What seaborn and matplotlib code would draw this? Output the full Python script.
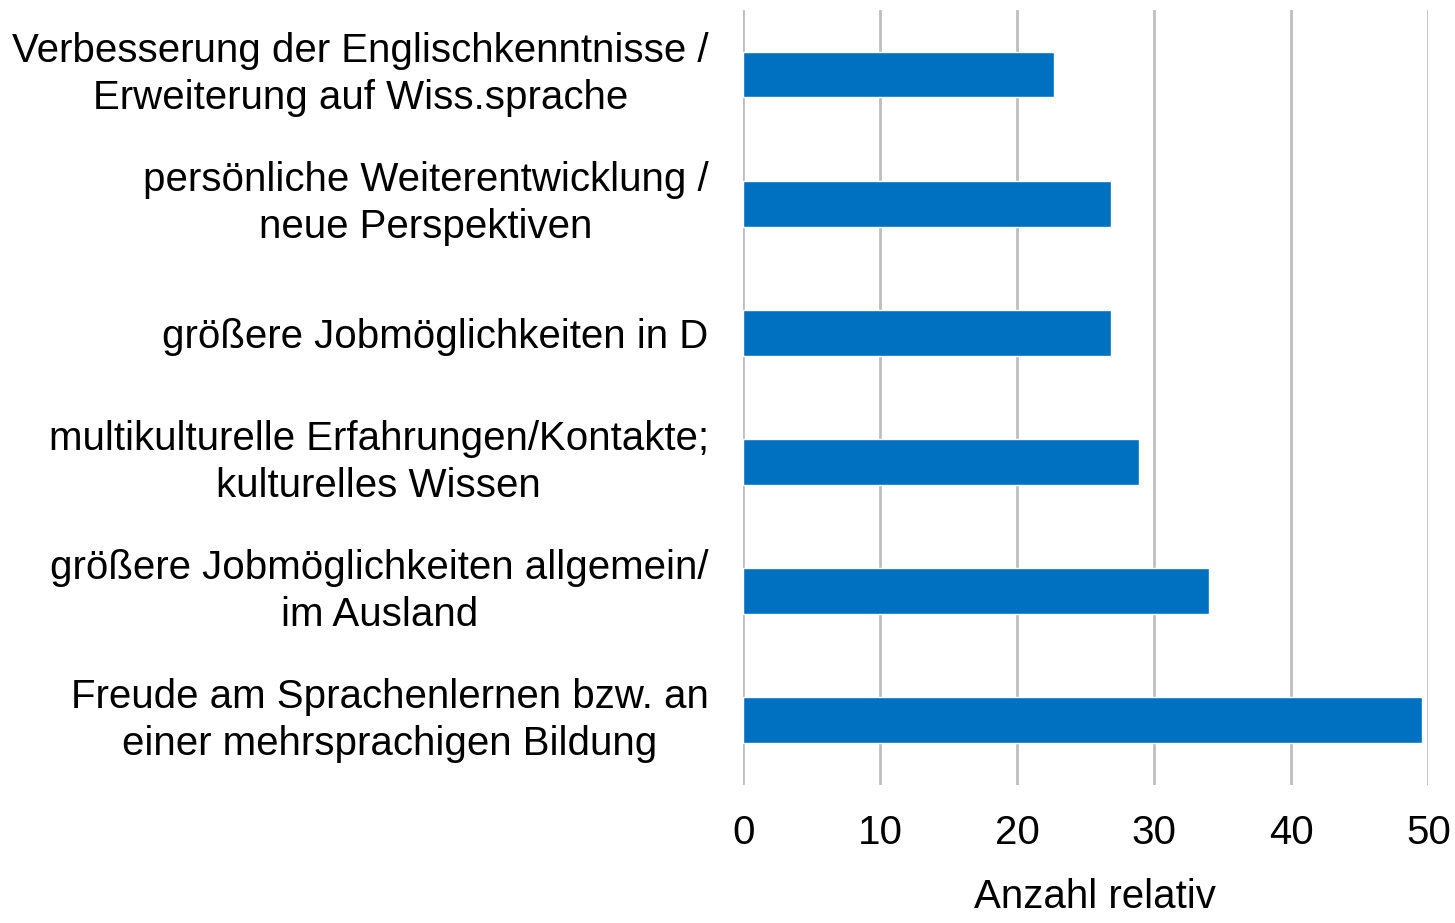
import matplotlib
matplotlib.use("Agg")
import matplotlib.pyplot as plt
import seaborn as sns
import pandas as pd

categories = [
    "Verbesserung der Englischkenntnisse /\nErweiterung auf Wiss.sprache",
    "persönliche Weiterentwicklung /\nneue Perspektiven",
    "größere Jobmöglichkeiten in D",
    "multikulturelle Erfahrungen/Kontakte;\nkulturelles Wissen",
    "größere Jobmöglichkeiten allgemein/\nim Ausland",
    "Freude am Sprachenlernen bzw. an\neiner mehrsprachigen Bildung",
]
values = [22.7, 26.8, 26.8, 28.9, 34.0, 49.5]
x_ticks = [0, 10, 20, 30, 40, 50]

df = pd.DataFrame({"Grund": categories, "Anzahl relativ": values})

sns.set_style("white")
plt.rcParams['font.family'] = ['Liberation Sans', 'DejaVu Sans']
plt.rcParams['text.color'] = 'black'
plt.rcParams['xtick.color'] = 'black'
plt.rcParams['ytick.color'] = 'black'
plt.rcParams['axes.labelcolor'] = 'black'

fig = plt.figure(figsize=(14.55, 9.23), dpi=100)
ax = fig.add_axes([0.5109, 0.1495, 0.4708, 0.8397])

sns.barplot(data=df, x="Anzahl relativ", y="Grund", orient="h",
            color="#0070C0", saturation=1, width=0.355, ax=ax)

ax.set_xlim(0, 50)
ax.set_ylim(5.5, -0.5)
ax.set_xticks(x_ticks)
ax.xaxis.grid(True, color="#bfbfbf", linewidth=2)
ax.yaxis.grid(False)
ax.set_axisbelow(True)
for s in ax.spines.values():
    s.set_visible(False)

ax.tick_params(axis="x", length=0, pad=21, labelsize=29)
ax.tick_params(axis="y", length=0, pad=25, labelsize=29)
for lbl in ax.get_yticklabels():
    lbl.set_multialignment("center")
    lbl.set_linespacing(1.3)
    if "\n" in lbl.get_text():
        lbl.set_va("center")
ax.set_ylabel("")
ax.set_xlabel("Anzahl relativ", fontsize=29)
ax.xaxis.set_label_coords(0.513, -0.12)
ax.xaxis.label.set_va("top")

fig.savefig("out.png", dpi=100)
